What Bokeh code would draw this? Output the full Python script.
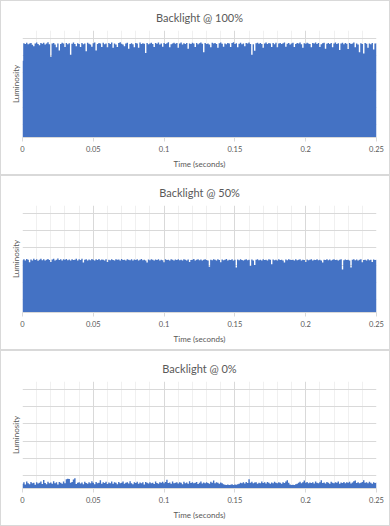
from bokeh.plotting import figure
from bokeh.layouts import column
from bokeh.models import FixedTicker, Range1d, NumeralTickFormatter, ColumnDataSource
from bokeh.embed import file_html
from bokeh.resources import INLINE

# ---- data (luminosity, arbitrary units; gridlines every 100) ----
titles = ["Backlight @ 100%", "Backlight @ 50%", "Backlight @ 0%"]
sample_step = 0.001  # seconds per sample

lum_100 = [
    470, 572, 568, 575, 566, 571, 574, 563, 555, 570,
    576, 567, 560, 573, 569, 575, 564, 571, 577, 566,
    494, 570, 574, 565, 548, 571, 530, 568, 575, 570,
    550, 573, 566, 572, 505, 569, 576, 567, 555, 572,
    568, 550, 574, 566, 571, 525, 575, 569, 564, 552,
    572, 576, 530, 567, 573, 570, 550, 575, 566, 571,
    548, 574, 568, 576, 545, 570, 565, 550, 573, 577,
    569, 564, 555, 571, 575, 540, 568, 572, 566, 548,
    574, 570, 545, 576, 567, 572, 569, 515, 574, 566,
    571, 575, 568, 550, 573, 569, 576, 565, 571, 552,
    574, 568, 572, 577, 548, 566, 571, 575, 569, 573,
    545, 570, 576, 564, 572, 568, 574, 540, 571, 567,
    575, 570, 550, 573, 566, 572, 576, 569, 520, 574,
    568, 571, 565, 548, 575, 570, 573, 567, 545, 572,
    576, 569, 552, 571, 566, 574, 570, 550, 573, 577,
    568, 572, 548, 569, 575, 566, 571, 555, 574, 570,
    576, 568, 505, 566, 528, 572, 575, 569, 573, 567,
    545, 571, 576, 568, 574, 570, 550, 573, 566, 575,
    548, 570, 574, 567, 572, 576, 552, 569, 573, 565,
    571, 575, 550, 568, 574, 570, 576, 566, 545, 572,
    569, 575, 571, 567, 548, 574, 570, 576, 568, 573,
    550, 566, 572, 575, 540, 569, 573, 567, 574, 548,
    571, 576, 568, 572, 532, 570, 575, 566, 573, 569,
    538, 574, 568, 571, 576, 548, 570, 565, 520, 572,
    568, 512, 574, 569, 545, 571, 566, 573, 535, 570,
    572,
]

lum_50 = [
    328, 333, 326, 335, 330, 316, 332, 327, 336, 329,
    334, 325, 331, 337, 328, 333, 326, 330, 335, 329,
    318, 332, 336, 327, 331, 338, 329, 334, 326, 333,
    330, 335, 328, 332, 326, 334, 329, 331, 337, 327,
    333, 329, 336, 314, 330, 334, 327, 332, 328, 335,
    331, 326, 333, 329, 335, 328, 332, 330, 327, 334,
    317, 331, 328, 333, 329, 326, 334, 330, 332, 327,
    335, 329, 331, 326, 333, 330, 328, 334, 327, 332,
    329, 333, 326, 331, 335, 328, 330, 327, 315, 332,
    328, 334, 330, 326, 332, 329, 333, 327, 331, 328,
    316, 333, 329, 331, 327, 334, 330, 326, 332, 329,
    333, 328, 331, 327, 334, 330, 326, 332, 318, 329,
    331, 335, 327, 330, 333, 328, 332, 326, 330, 334,
    329, 327, 290, 331, 328, 334, 330, 326, 333, 329,
    316, 332, 328, 330, 335, 327, 331, 329, 333, 326,
    330, 285, 332, 328, 334, 329, 327, 331, 333, 328,
    330, 295, 332, 327, 300, 331, 334, 328, 330, 326,
    333, 329, 331, 327, 334, 330, 305, 332, 328, 331,
    327, 333, 329, 330, 326, 314, 332, 328, 334, 330,
    329, 331, 327, 333, 328, 330, 334, 326, 331, 329,
    317, 332, 328, 330, 334, 327, 331, 329, 333, 328,
    330, 326, 315, 331, 329, 334, 328, 332, 327, 330,
    333, 329, 331, 327, 330, 334, 274, 328, 332, 329,
    331, 327, 285, 330, 333, 328, 332, 326, 330, 334,
    316, 329, 331, 327, 333, 328, 330, 318, 332, 329,
    331,
]

lum_0 = [
    52, 60, 47, 65, 55, 49, 62, 54, 58, 46,
    61, 53, 57, 64, 50, 74, 56, 48, 63, 55,
    59, 51, 66, 54, 60, 47, 62, 57, 52, 64,
    55, 78, 80, 79, 58, 62, 76, 83, 50, 57,
    61, 53, 59, 48, 63, 56, 52, 60, 54, 66,
    57, 49, 62, 55, 58, 72, 51, 60, 56, 63,
    50, 59, 54, 65, 52, 61, 57, 48, 62, 55,
    58, 64, 51, 57, 60, 53, 66, 55, 49, 61,
    56, 63, 52, 59, 54, 60, 47, 62, 57, 53,
    61, 55, 58, 50, 64, 56, 52, 60, 57, 63,
    54, 62, 75, 56, 59, 51, 64, 55, 58, 60,
    53, 61, 57, 48, 63, 55, 59, 52, 66, 56,
    60, 54, 58, 62, 50, 57, 64, 53, 59, 55,
    61, 56, 52, 63, 58, 70, 54, 60, 57, 51,
    59, 55, 48, 46, 45, 47, 44, 46, 48, 45,
    47, 46, 49, 52, 58, 55, 60, 53, 62, 56,
    78, 57, 63, 54, 59, 61, 52, 58, 55, 64,
    56, 60, 53, 62, 57, 51, 59, 55, 63, 58,
    54, 61, 57, 52, 60, 56, 65, 72, 58, 47,
    45, 46, 44, 48, 52, 57, 63, 55, 60, 70,
    58, 62, 54, 59, 56, 61, 53, 64, 57, 55,
    60, 72, 56, 59, 53, 62, 57, 51, 63, 58,
    55, 61, 57, 64, 52, 59, 56, 62, 54, 60,
    57, 63, 53, 59, 66, 70, 56, 61, 55, 58,
    62, 72, 57, 60, 54, 63, 58, 52, 61, 56,
    59,
]

x_major = [0, 0.05, 0.1, 0.15, 0.2, 0.25]
x_minor = [0.01, 0.02, 0.03, 0.04, 0.06, 0.07, 0.08, 0.09, 0.11, 0.12, 0.13, 0.14,
           0.16, 0.17, 0.18, 0.19, 0.21, 0.22, 0.23, 0.24]
y_grid = [100, 200, 300, 400, 500, 600]

BLUE = "#4472C4"
TXT = "#595959"
GRID = "#d9d9d9"
MINOR = "#f0f0f0"
FONT = "Lato"


def make(title, vals, height, top):
    t = [round(i * sample_step, 3) for i in range(len(vals))]
    src = ColumnDataSource(dict(t=t, v=vals))
    p = figure(width=390, height=height, output_backend="svg", toolbar_location=None,
               x_range=Range1d(0, 0.25), y_range=Range1d(24, 646),
               min_border_left=21, min_border_right=15, min_border_top=top,
               min_border_bottom=height - top - 107)
    p.varea_step(x="t", y1=0, y2="v", source=src, step_mode="center",
                 fill_color=BLUE, fill_alpha=1.0)

    p.title.text = title
    p.title.align = "center"
    p.title.text_font = FONT
    p.title.text_font_size = "11px"
    p.title.text_font_style = "normal"
    p.title.text_color = TXT
    p.title.standoff = 14

    p.outline_line_color = None
    p.background_fill_color = "white"
    p.border_fill_color = "white"

    xa = p.xaxis[0]
    xa.ticker = FixedTicker(ticks=x_major, minor_ticks=x_minor)
    xa.formatter = NumeralTickFormatter(format="0.[00]")
    xa.axis_line_color = GRID
    xa.major_tick_line_color = GRID
    xa.major_tick_in = 0
    xa.major_tick_out = 4
    xa.minor_tick_line_color = None
    xa.major_label_text_font = FONT
    xa.major_label_text_font_size = "7.5px"
    xa.major_label_text_color = TXT
    xa.major_label_standoff = 4
    xa.axis_label = "Time (seconds)"
    xa.axis_label_text_font = FONT
    xa.axis_label_text_font_size = "8px"
    xa.axis_label_text_font_style = "normal"
    xa.axis_label_text_color = TXT
    xa.axis_label_standoff = 4

    ya = p.yaxis[0]
    ya.ticker = FixedTicker(ticks=[])
    ya.axis_line_color = None
    ya.major_tick_line_color = None
    ya.minor_tick_line_color = None
    ya.major_tick_in = 0
    ya.major_tick_out = 0
    ya.major_label_standoff = 0
    ya.axis_label = "Luminosity"
    ya.axis_label_text_font = FONT
    ya.axis_label_text_font_size = "8px"
    ya.axis_label_text_font_style = "normal"
    ya.axis_label_text_color = TXT
    ya.axis_label_standoff = 2

    p.xgrid.grid_line_color = GRID
    p.xgrid.minor_grid_line_color = MINOR
    p.ygrid.ticker = FixedTicker(ticks=y_grid)
    p.ygrid.grid_line_color = GRID
    p.grid.level = "underlay"
    p.styles = {"border": "1px solid #d9d9d9", "box-sizing": "border-box"}
    return p


p1 = make(titles[0], lum_100, 175, 29)
p2 = make(titles[1], lum_50, 175, 29)
p3 = make(titles[2], lum_0, 176, 30)
layout = column(p1, p2, p3, spacing=0)

open("out.html", "w").write(file_html(layout, INLINE))
